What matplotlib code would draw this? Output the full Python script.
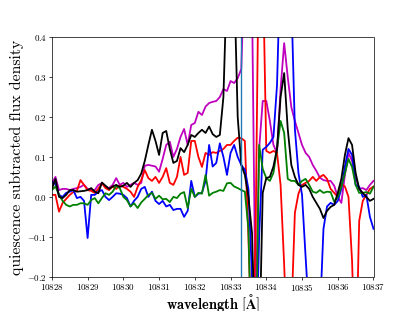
import numpy as np
import matplotlib
matplotlib.use('Agg')
from matplotlib import pyplot as plt

plt.rcParams['font.family'] = 'serif'
plt.rcParams['font.serif'] = ['cmr10']
plt.rcParams['mathtext.fontset'] = 'cm'
plt.rcParams['axes.formatter.use_mathtext'] = True

# wavelength grid in Angstrom
wave = np.round(np.arange(10828.0, 10837.0001, 0.1), 2)

black = [0.02, 0.045, 0.0, -0.003, 0.005, 0.017, 0.017, 0.013, 0.014, 0.015,
         0.017, 0.022, 0.013, 0.009, 0.036, 0.028, 0.02, 0.026, 0.03, 0.025,
         0.028, 0.035, 0.025, 0.035, 0.042, 0.058, 0.09, 0.13, 0.168, 0.14,
         0.105, 0.16, 0.165, 0.12, 0.085, 0.09, 0.122, 0.112, 0.13, 0.155,
         0.15, 0.16, 0.168, 0.16, 0.176, 0.157, 0.15, 0.155, 0.25, 0.55,
         0.6, 0.55, 0.2, 0.08, 0.055, 0.0, -0.09, -0.4, -0.4, 0.01,
         0.047, 0.05, 0.076, 0.12, 0.25, 0.31, 0.17, 0.08, 0.05, 0.03,
         0.025, 0.03, 0.02, 0.0, -0.015, -0.03, -0.053, -0.035, -0.025, -0.02,
         0.01, 0.045, 0.105, 0.147, 0.13, 0.06, 0.02, 0.01, 0.0, -0.01,
         -0.005]

magenta = [0.034, 0.05, 0.017, 0.02, 0.02, 0.017, 0.02, 0.022, 0.025, 0.03,
           0.02, 0.017, 0.017, 0.03, 0.034, 0.025, 0.022, 0.03, 0.047, 0.03,
           0.035, 0.025, 0.03, 0.035, 0.03, 0.035, 0.078, 0.08, 0.078, 0.076,
           0.063, 0.095, 0.13, 0.138, 0.1, 0.12, 0.15, 0.17, 0.13, 0.18,
           0.185, 0.213, 0.205, 0.226, 0.235, 0.238, 0.24, 0.25, 0.27, 0.265,
           0.29, 0.285, 0.297, 0.32, 0.6, 0.7, 0.5, -0.3, 0.12, 0.24,
           0.24, 0.19, 0.13, 0.11, 0.27, 0.385, 0.3, 0.225, 0.19, 0.16,
           0.13, 0.11, 0.1, 0.08, 0.065, 0.048, 0.042, 0.04, 0.04, 0.028,
           0.0, -0.015, 0.055, 0.11, 0.09, 0.05, 0.02, 0.022, 0.017, 0.03,
           0.04]

red = [0.005, 0.005, -0.037, -0.015, -0.005, 0.005, 0.012, 0.015, 0.042, 0.03,
       0.017, 0.015, 0.01, 0.02, 0.034, 0.022, 0.017, 0.026, 0.02, 0.028,
       0.025, 0.02, 0.013, 0.0, 0.025, 0.042, 0.067, 0.047, 0.04, 0.05,
       0.035, 0.05, 0.072, 0.035, 0.03, 0.05, 0.1, 0.055, 0.06, 0.14,
       0.14, 0.1, 0.075, 0.11, 0.105, 0.112, 0.11, 0.115, 0.12, 0.13,
       0.13, 0.14, 0.148, 0.147, 0.14, -0.1, -0.4, -0.1, 0.7, 0.6,
       0.115, 0.11, 0.115, 0.11, 0.03, -0.17, -0.4, -0.3, -0.04, 0.008,
       0.03, 0.035, 0.04, 0.05, 0.04, 0.05, 0.055, 0.045, 0.02, 0.01,
       0.0, 0.032, 0.026, 0.0, -0.16, -0.45, -0.06, -0.01, 0.005, 0.02,
       0.026]

blue = [0.038, 0.032, 0.005, 0.0, 0.01, 0.013, 0.017, -0.003, 0.0, -0.01,
        -0.103, 0.005, 0.005, 0.013, 0.017, 0.0, -0.008, 0.0, 0.009, 0.008,
        0.005, -0.003, -0.024, -0.01, 0.0, 0.02, 0.025, 0.0, 0.013, -0.01,
        -0.018, -0.01, -0.024, -0.02, -0.033, -0.03, -0.03, -0.05, -0.035, 0.04,
        0.0, 0.008, 0.01, 0.04, 0.13, 0.076, 0.085, 0.134, 0.1, 0.055,
        0.11, 0.13, 0.1, 0.08, 0.068, 0.02, -0.2, -0.45, -0.1, 0.118,
        0.125, 0.135, 0.15, 0.28, 0.6, 0.8, 0.8, 0.5, 0.17, 0.06,
        0.005, -0.15, -0.3, -0.45, -0.4, -0.3, -0.08, -0.024, -0.015, -0.02,
        -0.01, 0.02, 0.076, 0.12, 0.105, 0.03, 0.025, 0.0, 0.005, -0.05,
        -0.08]

green = [0.017, 0.026, 0.005, -0.01, -0.02, -0.024, -0.02, -0.02, -0.016, -0.016,
         -0.02, -0.008, -0.003, -0.016, -0.003, 0.009, 0.005, 0.013, 0.028, 0.022,
         0.0, -0.008, -0.024, -0.016, -0.028, -0.014, -0.005, 0.005, 0.01, -0.005,
         0.003, -0.006, -0.005, -0.013, 0.0, -0.003, 0.008, 0.012, -0.028, 0.02,
         0.0, 0.01, 0.008, 0.055, 0.003, 0.01, 0.013, 0.017, 0.015, 0.034,
         0.035, 0.026, 0.022, 0.017, 0.013, -0.08, -0.45, -0.45, 0.13, 0.07,
         0.047, 0.04, 0.06, 0.12, 0.19, 0.16, 0.045, 0.04, 0.04, 0.03,
         0.04, 0.045, 0.03, 0.013, 0.01, 0.017, 0.01, 0.013, 0.012, -0.012,
         0.0, 0.025, 0.059, 0.095, 0.075, 0.03, 0.01, 0.01, 0.012, 0.008,
         0.025]

he_line = 10833.3

# default 6.4x4.8 figure, saved at low dpi -> 415x311
dpi = 415 / 6.4
fig = plt.figure(figsize=(6.4, 4.8))
ax = fig.add_subplot(111)

lw = 2
ax.plot(wave, magenta, color='m', lw=lw)
ax.plot(wave, red, color='r', lw=lw)
ax.plot(wave, blue, color='b', lw=lw)
ax.plot(wave, green, color='g', lw=lw)
ax.plot(wave, black, color='k', lw=lw)
ax.axvline(he_line, color='C0', lw=1.5)

ax.set_xlim(10828, 10837)
ax.set_ylim(-0.2, 0.4)
ax.set_xticks(np.arange(10828, 10838, 1))
ax.set_yticks(np.arange(-0.2, 0.41, 0.1))
ax.ticklabel_format(axis='x', useOffset=False)
ax.tick_params(labelsize=10, length=3.5, pad=2)

ax.set_xlabel(r'$\mathbf{wavelength\ [\AA]}$', fontsize=16, labelpad=-1)
ax.set_ylabel('quiescence subtracted flux density', fontsize=17.5, labelpad=3)

fig.savefig('out.png', dpi=dpi)
